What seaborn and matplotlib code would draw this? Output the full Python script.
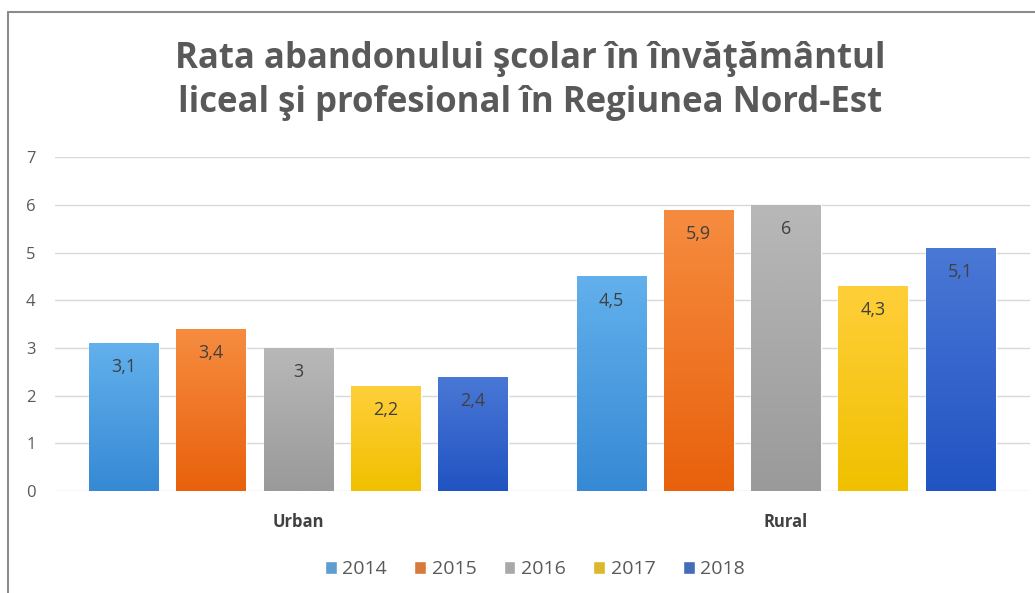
import matplotlib
matplotlib.use("Agg")
import numpy as np
import pandas as pd
import matplotlib.pyplot as plt
import seaborn as sns
from matplotlib.colors import LinearSegmentedColormap
from matplotlib.lines import Line2D

areas = ["Urban", "Rural"]
years = ["2014", "2015", "2016", "2017", "2018"]
urban = [3.1, 3.4, 3.0, 2.2, 2.4]
rural = [4.5, 5.9, 6.0, 4.3, 5.1]

top_colors = ["#62B0EC", "#F68C40", "#B8B8B8", "#FFCF3A", "#4A78D6"]
bottom_colors = ["#3689D4", "#E9610C", "#9A9A9A", "#F0C000", "#2153C2"]
mid_colors = ["#4A9FE2", "#F07624", "#A8A8A8", "#FAC90F", "#3264CC"]

rows = []
for i, y in enumerate(years):
    rows.append({"area": "Urban", "year": y, "rate": urban[i]})
    rows.append({"area": "Rural", "year": y, "rate": rural[i]})
df = pd.DataFrame(rows)

sns.set_theme(style="white")
plt.rcParams["font.family"] = ["Open Sans", "DejaVu Sans"]

fig = plt.figure(figsize=(10.35, 5.93), dpi=100)
ax = fig.add_axes([0.053, 0.172, 0.942, 0.563])

sns.barplot(data=df, x="area", y="rate", hue="year", order=areas, hue_order=years,
            palette=mid_colors, width=0.895, gap=0.2, ax=ax, legend=True)

# gradient fill on each bar
for i, cont in enumerate(ax.containers):
    cmap = LinearSegmentedColormap.from_list("g%d" % i, [bottom_colors[i], top_colors[i]])
    for patch in cont.patches:
        x0, y0 = patch.get_x(), patch.get_y()
        w, h = patch.get_width(), patch.get_height()
        grad = np.linspace(0, 1, 100).reshape(-1, 1)
        im = ax.imshow(grad, cmap=cmap, aspect="auto", origin="lower",
                       extent=[x0, x0 + w, y0, y0 + h], zorder=2)
        im.set_clip_path(patch)
    labels = [f"{v:g}".replace(".", ",") for v in cont.datavalues]
    ax.bar_label(cont, labels=labels, padding=-24, fontsize=13, color="#404040")

ax.set_xlim(-0.5, 1.5)
ax.set_ylim(0, 7)
ax.set_yticks(range(0, 8))
ax.yaxis.grid(True, color="#D9D9D9", linewidth=1)
ax.set_axisbelow(True)
for s in ax.spines.values():
    s.set_visible(False)
ax.tick_params(axis="y", length=0, pad=14, labelsize=12, labelcolor="#595959")
ax.tick_params(axis="x", length=0, pad=16, labelsize=12, labelcolor="#404040")
for t in ax.get_xticklabels():
    t.set_fontweight("bold")
ax.set_xlabel("")
ax.set_ylabel("")

handles, labs = ax.get_legend_handles_labels()
ax.legend(handles, labs, loc="center", bbox_to_anchor=(535 / 1035, 0.04),
          bbox_transform=fig.transFigure, ncol=5, frameon=False,
          handlelength=0.6, handleheight=0.6, handletextpad=0.3, columnspacing=1.4,
          fontsize=14, labelcolor="#595959")

fig.text(530 / 1035, 1 - 81 / 593,
         "Rata abandonului şcolar în învăţământul\nliceal şi profesional în Regiunea Nord-Est",
         ha="center", va="center", fontsize=25, fontweight="bold", color="#595959",
         linespacing=1.3)

# chart frame (top and left edges visible in the reference)
fig.add_artist(Line2D([8 / 1035, 8 / 1035], [0, 1 - 12 / 593], transform=fig.transFigure,
                      color="#8C8C8C", linewidth=1.5))
fig.add_artist(Line2D([8 / 1035, 1], [1 - 12 / 593, 1 - 12 / 593], transform=fig.transFigure,
                      color="#8C8C8C", linewidth=1.5))

fig.savefig("out.png", dpi=100)
